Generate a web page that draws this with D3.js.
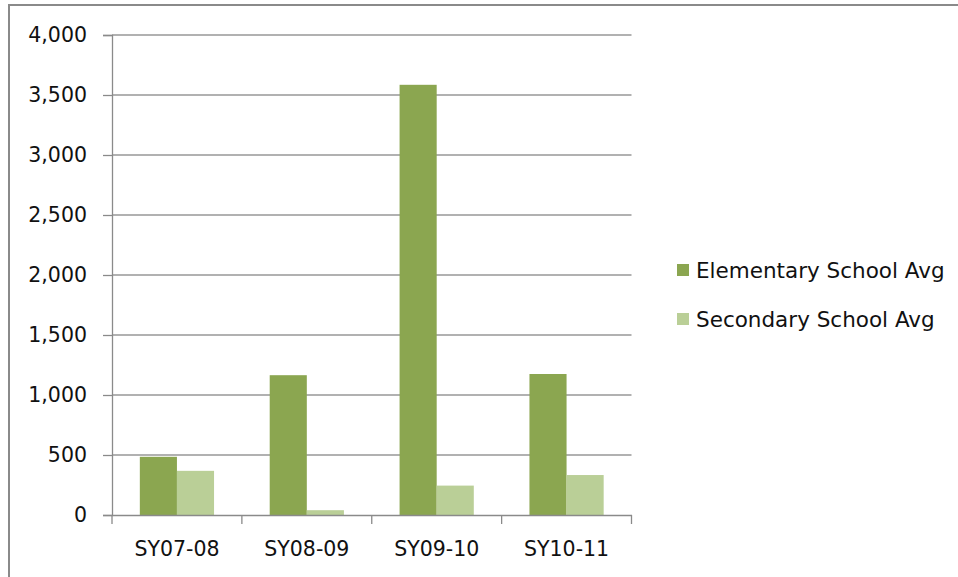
<!DOCTYPE html>
<html>
<head>
<meta charset="utf-8">
<script src="https://cdn.jsdelivr.net/npm/d3@7"></script>
<style>
  body { margin: 0; background: #fff; }
  svg { display: block; font-family: "DejaVu Sans", sans-serif; }
</style>
</head>
<body>
<div class="chart-container"></div>
<script>
const categories = ['SY07-08', 'SY08-09', 'SY09-10', 'SY10-11'];
const seriesNames = ['Elementary School Avg', 'Secondary School Avg'];
const elementaryAvg = [485, 1165, 3585, 1175];
const secondaryAvg = [368, 40, 245, 333];
const yTicks = [0, 500, 1000, 1500, 2000, 2500, 3000, 3500, 4000];

const colors = ['#8ba650', '#bacf97'];
const width = 958, height = 577;
const plot = {left: 112, right: 631.5, top: 35, bottom: 515};

const rows = categories.map((c, i) => ({
  name: c,
  values: [elementaryAvg[i], secondaryAvg[i]]
}));

const svg = d3.select('.chart-container')
  .append('svg')
  .attr('width', width)
  .attr('height', height);

svg.append('rect').attr('width', width).attr('height', height).attr('fill', '#fff');

// outer frame (top and left edges visible)
svg.append('path')
  .attr('d', `M9,${height} L9,5 L${width},5`)
  .attr('fill', 'none')
  .attr('stroke', '#8a8a8a')
  .attr('stroke-width', 2);

// scales
const x0 = d3.scaleBand()
  .domain(categories)
  .range([plot.left, plot.right])
  .padding(0);

const x1 = d3.scaleBand()
  .domain([0, 1])
  .range([0, x0.bandwidth()])
  .paddingInner(0)
  .paddingOuter(0.75);

const y = d3.scaleLinear()
  .domain([0, 4000])
  .range([plot.bottom, plot.top]);

// gridlines
svg.append('g')
  .selectAll('line')
  .data(yTicks.filter(d => d > 0))
  .enter()
  .append('line')
  .attr('x1', plot.left)
  .attr('x2', plot.right)
  .attr('y1', d => y(d))
  .attr('y2', d => y(d))
  .attr('stroke', '#979797')
  .attr('stroke-width', 1.3);

// bars
const groups = svg.append('g')
  .selectAll('g')
  .data(rows)
  .enter()
  .append('g')
  .attr('transform', d => `translate(${x0(d.name)},0)`);

groups.selectAll('rect')
  .data(d => d.values.map((v, i) => ({i, v})))
  .enter()
  .append('rect')
  .attr('x', d => x1(d.i))
  .attr('y', d => y(d.v))
  .attr('width', x1.bandwidth())
  .attr('height', d => y(0) - y(d.v))
  .attr('fill', d => colors[d.i]);

// y axis
const yAxis = svg.append('g')
  .attr('transform', `translate(${plot.left},0)`)
  .call(d3.axisLeft(y).tickValues(yTicks).tickSize(9).tickPadding(16).tickFormat(d3.format(',')));

yAxis.select('.domain').attr('stroke', '#8a8a8a').attr('stroke-width', 1.3);
yAxis.selectAll('.tick line').attr('stroke', '#8a8a8a').attr('stroke-width', 1.3);
yAxis.selectAll('text')
  .attr('font-family', '"DejaVu Sans", sans-serif')
  .attr('font-size', 20.5)
  .attr('fill', '#111');

// x axis
const xAxis = svg.append('g')
  .attr('transform', `translate(0,${plot.bottom})`)
  .call(d3.axisBottom(x0).tickSize(0).tickPadding(26));

xAxis.select('.domain').attr('stroke', '#8a8a8a').attr('stroke-width', 1.3);
xAxis.selectAll('text')
  .attr('font-family', '"DejaVu Sans", sans-serif')
  .attr('font-size', 20.5)
  .attr('fill', '#111');

// category boundary ticks
const bounds = categories.map(c => x0(c)).concat([plot.right]);
xAxis.selectAll('.bound')
  .data(bounds)
  .enter()
  .append('line')
  .attr('class', 'bound')
  .attr('x1', d => d)
  .attr('x2', d => d)
  .attr('y1', 0)
  .attr('y2', 9)
  .attr('stroke', '#8a8a8a')
  .attr('stroke-width', 1.3);

// legend
const legend = svg.append('g')
  .selectAll('g')
  .data(seriesNames)
  .enter()
  .append('g')
  .attr('transform', (d, i) => `translate(677,${270 + i * 49})`);

legend.append('rect')
  .attr('x', 0)
  .attr('y', -6)
  .attr('width', 12)
  .attr('height', 12)
  .attr('fill', (d, i) => colors[i]);

legend.append('text')
  .attr('x', 19)
  .attr('y', 0)
  .attr('dy', '0.35em')
  .attr('font-size', 21.5)
  .attr('fill', '#111')
  .text(d => d);
</script>
</body>
</html>
